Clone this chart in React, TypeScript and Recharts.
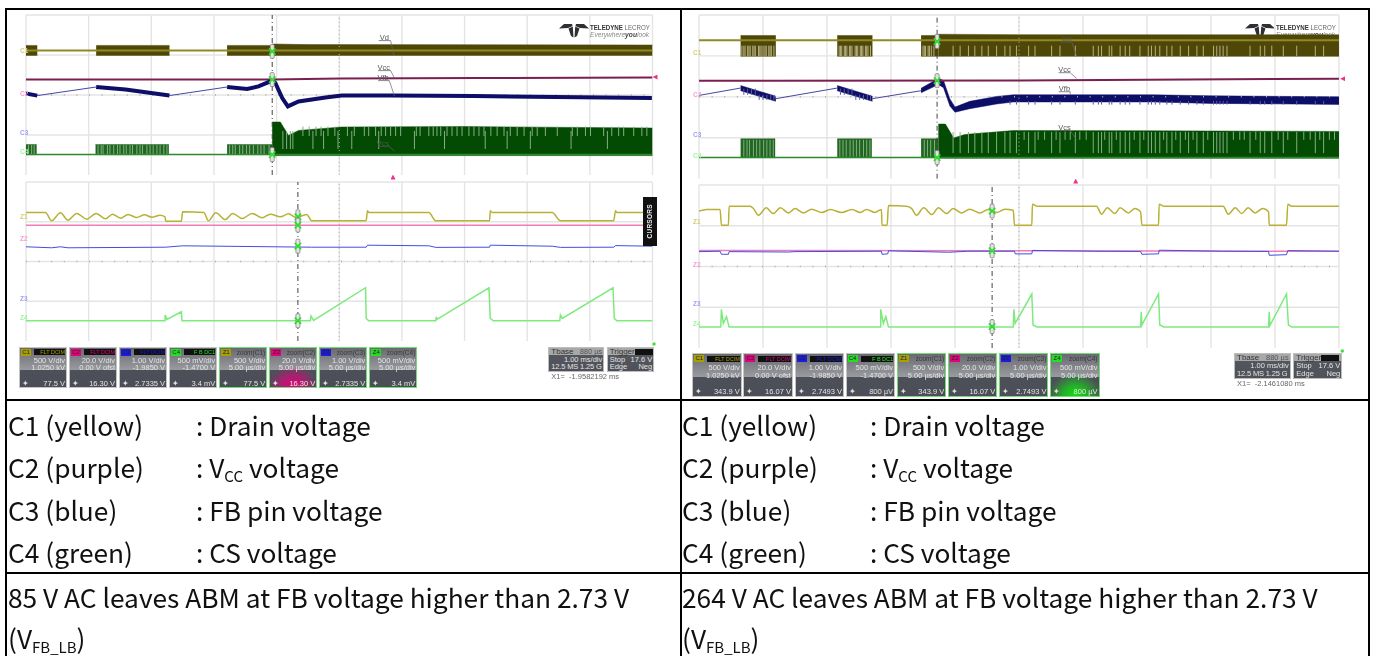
import { ComposedChart, CartesianGrid, XAxis, YAxis, Line, Area, ReferenceLine, ReferenceDot } from 'recharts'

type Pt = [number, number]
type Band = [number, number, number]
type Notches = { low: number; high: number; xs: number[] }

const GRID_X = [0, 1, 2, 3, 4, 5, 6, 7, 8, 9, 10]
const GRID_Y = [0, 1, 2, 3, 4, 5, 6, 7, 8]

const ltC1Base: Pt[] = [[0, 6.23], [10, 6.23]]
const ltC1Bursts: Band[][] = [
  [[0, 5.98, 6.48], [0.18, 5.98, 6.48]],
  [[1.12, 5.98, 6.48], [2.29, 5.98, 6.48]],
  [[3.21, 5.98, 6.48], [3.93, 5.98, 6.48]],
  [[3.93, 5.98, 6.55], [4.5, 5.98, 6.52], [10, 5.98, 6.5]],
]
const ltC2: Pt[] = [[0, 4.78], [3.93, 4.78], [5.02, 4.82], [7.2, 4.85], [10, 4.88]]
const ltC3Thin: Pt[][] = [
  [[0.18, 3.97], [1.12, 4.4]],
  [[2.29, 3.97], [3.21, 4.4]],
]
const ltC3Thick: Pt[][] = [
  [[0, 4.08], [0.18, 3.97]],
  [[1.12, 4.4], [1.59, 4.27], [2.29, 3.97]],
  [[3.21, 4.4], [3.53, 4.3], [3.71, 4.43], [3.93, 4.72], [3.98, 4.6], [4.09, 3.85], [4.18, 3.43], [4.35, 3.68], [4.78, 3.88], [5.04, 3.97], [5.82, 3.98], [7.15, 3.95], [9.99, 3.85]],
]
const ltC4Base: Pt[] = [[0, 1.02], [10, 1.02]]
const ltC4Bursts: Band[][] = [
  [[0, 1.02, 1.52], [0.17, 1.02, 1.52]],
  [[1.11, 1.02, 1.52], [2.28, 1.02, 1.52]],
  [[3.21, 1.02, 1.52], [3.93, 1.02, 1.52]],
]
const ltC4Post: Band[] = [[3.93, 0.97, 2.65], [4.06, 0.97, 2.65], [4.19, 0.97, 1.98], [4.35, 0.97, 2.23], [5.04, 0.97, 2.4], [7, 0.97, 2.42], [10, 0.97, 2.35]]
const ltC4BurstHatch: Notches = {
  low: 1.05, high: 1.5,
  xs: [0.04, 0.09, 0.13, 1.15, 1.2, 1.23, 1.3, 1.34, 1.4, 1.46, 1.5, 1.56, 1.6, 1.66, 1.7, 1.77, 1.82, 1.86, 1.93, 1.98, 2.03, 2.09, 2.14, 2.2, 2.25, 3.25, 3.3, 3.34, 3.41, 3.46, 3.52, 3.57, 3.63, 3.7, 3.75, 3.8, 3.88],
}
const ltC4PostShort: Notches = {
  low: 1.95, high: 2.42,
  xs: [4.42, 4.52, 4.63, 4.71, 4.82, 4.93, 5.13, 5.24, 5.4, 5.47, 5.58, 5.67, 5.74, 5.82, 5.9, 5.98, 6.23, 6.29, 6.43, 6.5, 6.56, 6.62, 6.72, 6.8, 6.88, 6.96, 7.07, 7.15, 7.23, 7.31, 7.42, 7.52, 7.63, 7.73, 7.84, 7.95, 8.08, 8.16, 8.29, 8.48, 8.72, 8.8, 8.93, 9.01, 9.22, 9.35, 9.46, 9.54, 9.7, 9.83, 9.91],
}
const ltC4PostLong: Notches = {
  low: 1.3, high: 2.2,
  xs: [4.1, 4.16, 4.22, 4.26, 4.58, 4.75, 4.98, 5.2, 5.63, 6.2, 6.68, 7.33, 7.68, 8.05, 8.7, 9.28],
}

const lbC1: Pt[] = [[0, 6.47], [0.31, 6.47], [0.41, 6.05], [0.55, 6.45], [0.67, 6.08], [0.81, 6.42], [0.97, 6.13], [1.12, 6.42], [1.27, 6.15], [1.38, 6.38], [1.51, 6.18], [1.63, 6.37], [1.77, 6.21], [1.89, 6.35], [2.01, 6.23], [2.14, 6.33], [2.22, 6.25], [2.23, 6.02], [2.48, 6.02], [2.5, 6.5], [2.84, 6.47], [2.91, 6.05], [3.03, 6.45], [3.18, 6.11], [3.3, 6.42], [3.45, 6.16], [3.61, 6.42], [3.77, 6.2], [3.9, 6.38], [4.06, 6.25], [4.19, 6.4], [4.31, 6.21], [4.48, 6.37], [4.56, 6.05], [5.43, 6.05], [5.45, 6.55], [5.47, 6.47], [6.43, 6.47], [6.54, 6.05], [7.4, 6.05], [7.41, 6.55], [7.44, 6.47], [8.4, 6.47], [8.53, 6.05], [9.38, 6.05], [9.41, 6.55], [9.43, 6.47], [10, 6.47]]
const lbC2: Pt[] = [[0, 5.83], [10, 5.83]]
const lbC3: Pt[] = [[0, 4.74], [0.41, 4.69], [0.55, 4.74], [0.67, 4.69], [2.23, 4.72], [2.5, 4.79], [4.56, 4.72], [5.43, 4.72], [5.45, 4.82], [6.43, 4.79], [6.54, 4.71], [7.4, 4.72], [7.41, 4.82], [8.4, 4.77], [8.53, 4.71], [9.38, 4.72], [9.41, 4.8], [10, 4.77]]
const lbC4: Pt[] = [[0, 1.02], [2.22, 1.02], [2.22, 1.31], [2.25, 1.09], [2.48, 1.47], [2.49, 1.02], [4.54, 1.02], [4.55, 1.26], [4.59, 1.04], [5.42, 2.68], [5.43, 1.14], [5.47, 1.02], [6.54, 1.02], [6.55, 1.22], [6.56, 1.09], [7.39, 2.68], [7.41, 1.14], [7.46, 1.02], [8.52, 1.02], [8.53, 1.31], [8.56, 1.14], [9.37, 2.68], [9.39, 1.14], [9.43, 1.02], [10, 1.02]]

const rtC1Base: Pt[] = [[0, 6.76], [10, 6.76]]
const rtC1Bursts: Band[][] = [
  [[0.65, 5.98, 7], [1.2, 5.98, 7]],
  [[2.16, 5.98, 7], [2.71, 5.98, 7]],
  [[3.47, 5.98, 7], [3.74, 5.98, 7]],
  [[3.74, 5.98, 7.06], [5, 5.98, 7.04], [10, 5.98, 7.03]],
]
const rtPulseGaps = [3.97, 4.08, 4.21, 4.31, 4.42, 4.52, 4.65, 4.78, 4.86, 4.96, 5.15, 5.25, 5.51, 5.64, 5.88, 6.16, 6.24, 6.29, 6.41, 6.45, 6.58, 6.66, 6.73, 6.89, 7.02, 7.07, 7.13, 7.2, 7.31, 7.39, 7.52, 7.65, 7.78, 7.88, 8.04, 8.09, 8.14, 8.19, 8.25, 8.61, 8.77, 8.84, 8.95, 9.13, 9.34, 9.63, 9.76]
const rtC1Hatch: Notches = {
  low: 5.98, high: 6.5,
  xs: [0.67, 0.7, 0.72, 0.76, 0.78, 0.8, 0.84, 0.86, 0.88, 0.93, 0.95, 0.97, 1.0, 1.03, 1.05, 1.09, 1.11, 1.13, 1.17, 2.19, 2.21, 2.23, 2.27, 2.29, 2.31, 2.35, 2.37, 2.39, 2.44, 2.46, 2.48, 2.52, 2.54, 2.56, 2.6, 2.62, 2.64, 2.68, 3.5, 3.52, 3.54, 3.58, 3.6, 3.63, 3.67, ...rtPulseGaps],
}
const rtC2: Pt[] = [[0, 4.79], [5, 4.8], [10, 4.89]]
const rtC3Thin: Pt[][] = [
  [[0, 4.07], [0.65, 4.43]],
  [[1.2, 3.91], [2.16, 4.43]],
  [[2.71, 3.91], [3.47, 4.3]],
]
const rtC3Bands: Band[][] = [
  [[0.65, 4.3, 4.55], [1.2, 3.78, 4.03]],
  [[2.16, 4.3, 4.55], [2.71, 3.78, 4.03]],
  [[3.47, 4.2, 4.42], [3.74, 4.6, 4.9], [3.82, 4.45, 4.8], [3.92, 3.55, 3.9], [4.0, 3.25, 3.5], [4.23, 3.42, 3.78], [4.65, 3.65, 4.02], [4.91, 3.75, 4.1], [7.1, 3.75, 4.1], [8, 3.68, 4.05], [10, 3.63, 4.0]],
]
const rtC3EdgeGaps: Notches = { low: 3.62, high: 3.8, xs: rtPulseGaps.slice(8) }
const rtC3BurstGaps: Notches[] = [
  { low: 4.1, high: 4.4, xs: [0.7, 0.76, 0.82, 0.88] },
  { low: 3.85, high: 4.1, xs: [0.94, 1.0, 1.06, 1.12, 1.17] },
  { low: 4.1, high: 4.4, xs: [2.21, 2.27, 2.33, 2.39] },
  { low: 3.85, high: 4.1, xs: [2.45, 2.51, 2.57, 2.63, 2.68] },
]
const rtC4Base: Pt[] = [[0, 1.03], [10, 1.03]]
const rtC4Bursts: Band[][] = [
  [[0.65, 1.03, 1.95], [1.19, 1.03, 1.95]],
  [[2.16, 1.03, 1.95], [2.7, 1.03, 1.95]],
  [[3.47, 1.03, 1.95], [3.74, 1.03, 1.95]],
]
const rtC4Post: Band[] = [[3.74, 1, 2.67], [3.85, 1, 2.67], [3.98, 1, 1.99], [4.14, 1, 2.15], [4.23, 1, 2.18], [4.91, 1, 2.35], [7, 1, 2.34], [10, 1, 2.31]]
const rtC4BurstHatch: Notches = {
  low: 1.08, high: 1.9,
  xs: [0.7, 0.75, 0.79, 0.85, 0.9, 0.95, 1.01, 1.06, 1.11, 1.16, 2.2, 2.25, 2.3, 2.36, 2.41, 2.46, 2.51, 2.57, 2.62, 2.67, 3.52, 3.57, 3.62, 3.68],
}
const rtC4PostLong: Notches = { low: 1.25, high: 2.28, xs: rtPulseGaps }
const rtC4PostShort: Notches = {
  low: 1.9, high: 2.3,
  xs: [5.08, 5.3, 5.4, 5.58, 5.72, 5.8, 5.95, 6.05, 6.34, 6.52, 6.8, 6.95, 7.26, 7.45, 7.6, 7.72, 7.95, 8.35, 8.45, 8.52, 8.7, 9.05, 9.2, 9.45, 9.55, 9.7, 9.85, 9.93],
}

const rbC1: Pt[] = [[0, 6.72], [0.12, 6.8], [0.33, 6.8], [0.35, 6.03], [0.46, 6.03], [0.47, 6.96], [0.8, 6.96], [0.85, 6.85], [0.93, 6.52], [1.05, 6.88], [1.16, 6.6], [1.27, 6.88], [1.4, 6.63], [1.5, 6.85], [1.63, 6.63], [1.76, 6.81], [1.92, 6.65], [2.05, 6.8], [2.23, 6.65], [2.39, 6.8], [2.52, 6.65], [2.62, 6.8], [2.75, 6.65], [2.85, 6.8], [2.86, 6.03], [2.94, 6.03], [2.96, 6.99], [3.24, 6.96], [3.32, 6.85], [3.4, 6.52], [3.51, 6.88], [3.64, 6.55], [3.74, 6.88], [3.87, 6.6], [3.97, 6.85], [4.1, 6.63], [4.23, 6.81], [4.39, 6.63], [4.52, 6.8], [4.65, 6.65], [4.78, 6.81], [4.91, 6.76], [4.93, 6.03], [5.2, 6.03], [5.21, 7.06], [5.28, 6.96], [6.21, 6.96], [6.29, 6.57], [6.38, 6.88], [6.5, 6.6], [6.58, 6.88], [6.71, 6.63], [6.81, 6.85], [6.9, 6.68], [6.92, 6.03], [7.18, 6.03], [7.19, 7.06], [7.26, 6.96], [8.19, 6.96], [8.27, 6.57], [8.38, 6.88], [8.48, 6.6], [8.58, 6.88], [8.69, 6.63], [8.81, 6.85], [8.9, 6.68], [8.91, 6.03], [9.18, 6.03], [9.2, 7.06], [9.26, 6.96], [10, 6.96]]
const rbC2: Pt[] = [[0, 4.79], [10, 4.75]]
const rbC3: Pt[] = [[0, 4.73], [0.33, 4.75], [0.35, 4.6], [0.46, 4.6], [0.47, 4.73], [1.4, 4.71], [1.5, 4.73], [2.85, 4.75], [2.86, 4.6], [2.95, 4.62], [2.96, 4.77], [3.9, 4.7], [4.2, 4.75], [4.93, 4.75], [4.94, 4.62], [5.2, 4.62], [5.21, 4.79], [6.2, 4.75], [6.9, 4.74], [6.92, 4.6], [7.18, 4.62], [7.19, 4.8], [8.2, 4.75], [8.9, 4.74], [8.91, 4.55], [9.18, 4.58], [9.2, 4.78], [10, 4.75]]
const rbC4: Pt[] = [[0, 1.03], [0.34, 1.03], [0.35, 1.9], [0.38, 1.21], [0.43, 1.54], [0.47, 1.03], [2.84, 1.03], [2.84, 1.9], [2.88, 1.21], [2.92, 1.54], [2.96, 1.03], [4.91, 1.03], [4.92, 1.9], [4.94, 1.21], [5.2, 2.65], [5.22, 1.13], [5.28, 1.03], [6.9, 1.03], [6.91, 1.78], [6.92, 1.13], [7.18, 2.65], [7.2, 1.13], [7.26, 1.03], [8.9, 1.03], [8.91, 1.78], [8.92, 1.1], [9.18, 2.65], [9.21, 1.13], [9.26, 1.03], [10, 1.03]]

const ltMarks: Pt[] = [[3.93, 6.18], [3.93, 4.77], [3.93, 1.02]]
const lbMarks: Pt[] = [[4.34, 6.25], [4.34, 5.83], [4.34, 4.77], [4.34, 1.02]]
const rtMarks: Pt[] = [[3.72, 6.71], [3.72, 4.79], [3.72, 1.03]]
const rbMarks: Pt[] = [[4.58, 6.72], [4.58, 4.77], [4.58, 1.05]]

const ltNotes = [
  { text: 'Vd', x: 5.72, y: 6.88, under: 6.72, from: 5.63, to: 5.82, endX: 5.87, endY: 6 },
  { text: 'Vcc', x: 5.71, y: 5.38, under: 5.22, from: 5.62, to: 5.82, endX: 5.88, endY: 4.85 },
  { text: 'Vfb', x: 5.7, y: 4.88, under: 4.72, from: 5.62, to: 5.8, endX: 5.88, endY: 3.95 },
  { text: 'Vcs', x: 5.7, y: 1.58, under: 1.42, from: 5.62, to: 5.8, endX: 5.88, endY: 1.2 },
]
const rtNotes = [
  { text: 'Vd', x: 5.74, y: 6.81, under: 6.65, from: 5.65, to: 5.83, endX: 5.9, endY: 6 },
  { text: 'Vcc', x: 5.71, y: 5.34, under: 5.18, from: 5.62, to: 5.8, endX: 5.9, endY: 4.9 },
  { text: 'Vfb', x: 5.71, y: 4.41, under: 4.25, from: 5.62, to: 5.8, endX: 5.8, endY: 4.1 },
  { text: 'Vcs', x: 5.71, y: 2.51, under: 2.35, from: 5.62, to: 5.8, endX: 5.9, endY: 1.9 },
]

const leftChannels = [
  { tag: 'C1', color: '#a8a000', head: 'FLT DCIM', a: '500 V/div', b: '1.0250 kV', c: '77.5 V' },
  { tag: 'C2', color: '#e6007e', head: 'FLT DCIM', a: '20.0 V/div', b: '0.00 V ofst', c: '16.30 V' },
  { tag: 'C3', color: '#1a1ae0', head: 'FLT DCIM', a: '1.00 V/div', b: '-1.9850 V', c: '2.7335 V' },
  { tag: 'C4', color: '#22e022', head: 'F B DC1', a: '500 mV/div', b: '-1.4700 V', c: '3.4 mV' },
  { tag: 'Z1', color: '#a8a000', head: 'zoom(C1)', a: '500 V/div', b: '5.00 µs/div', c: '77.5 V', zoom: true },
  { tag: 'Z2', color: '#e6007e', head: 'zoom(C2)', a: '20.0 V/div', b: '5.00 µs/div', c: '16.30 V', zoom: true, glow: '#e6007e' },
  { tag: 'Z3', color: '#1a1ae0', head: 'zoom(C3)', a: '1.00 V/div', b: '5.00 µs/div', c: '2.7335 V', zoom: true },
  { tag: 'Z4', color: '#22e022', head: 'zoom(C4)', a: '500 mV/div', b: '5.00 µs/div', c: '3.4 mV', zoom: true },
]
const rightChannels = [
  { tag: 'C1', color: '#a8a000', head: 'FLT DCIM', a: '500 V/div', b: '1.0250 kV', c: '343.9 V' },
  { tag: 'C2', color: '#e6007e', head: 'FLT DCIM', a: '20.0 V/div', b: '0.00 V ofst', c: '16.07 V' },
  { tag: 'C3', color: '#1a1ae0', head: 'FLT DCIM', a: '1.00 V/div', b: '-1.9850 V', c: '2.7493 V' },
  { tag: 'C4', color: '#22e022', head: 'F B DC1', a: '500 mV/div', b: '-1.4700 V', c: '800 µV' },
  { tag: 'Z1', color: '#a8a000', head: 'zoom(C1)', a: '500 V/div', b: '5.00 µs/div', c: '343.9 V', zoom: true },
  { tag: 'Z2', color: '#e6007e', head: 'zoom(C2)', a: '20.0 V/div', b: '5.00 µs/div', c: '16.07 V', zoom: true },
  { tag: 'Z3', color: '#1a1ae0', head: 'zoom(C3)', a: '1.00 V/div', b: '5.00 µs/div', c: '2.7493 V', zoom: true },
  { tag: 'Z4', color: '#22e022', head: 'zoom(C4)', a: '500 mV/div', b: '5.00 µs/div', c: '800 µV', zoom: true, glow: '#10e010' },
]

const legendRows = ['C1 (yellow)', 'C2 (purple)', 'C3 (blue)', 'C4 (green)']

const PAD = 5
const SCOPE_FONT = '"Liberation Sans", Arial, sans-serif'

const YELLOW_DARK = '#4e4707'
const YELLOW_THIN = '#8f8a24'
const MAROON = '#7a1f50'
const NAVY = '#0c0e68'
const NAVY_THIN = '#4646a2'
const PALE_NAVY = '#5c5ca0'
const GREEN_DARK = '#034a03'
const GREEN_MID = '#1f661f'
const GREEN_THIN = '#2a8a2a'
const PALE_GREEN = '#86ad86'
const PALE_YELLOW = '#b5b084'
const Z_YELLOW = '#b9b136'
const Z_PINK = '#f27ab8'
const Z_BLUE = '#3f4fe0'
const Z_GREEN = '#7eea7e'

const toRows = (pts: Pt[]) => pts.map(([x, y]) => ({ x, y }))
const toBandRows = (pts: Band[]) => pts.map(([x, low, high]) => ({ x, band: [low, high] }))
const toNotchRows = (n: Notches) => n.xs.flatMap(x => [{ x, y: n.low }, { x, y: n.high }, { x, y: null }])

const traceLine = (pts: Pt[], stroke: string, strokeWidth: number, key: string, type: any = 'linear') => (
  <Line key={key} data={toRows(pts)} dataKey="y" type={type} stroke={stroke} strokeWidth={strokeWidth} dot={false} activeDot={false} isAnimationActive={false} />
)
const bandArea = (pts: Band[], fill: string, key: string) => (
  <Area key={key} data={toBandRows(pts)} dataKey="band" type="linear" fill={fill} fillOpacity={1} stroke={fill} strokeWidth={0.5} dot={false} activeDot={false} isAnimationActive={false} />
)
const notchLine = (n: Notches, stroke: string, key: string) => (
  <Line key={key} data={toNotchRows(n)} dataKey="y" type="linear" stroke={stroke} strokeWidth={1} dot={false} activeDot={false} isAnimationActive={false} connectNulls={false} />
)

const CursorMark = (props: any) => {
  const { cx, cy } = props
  return (
    <g>
      <rect x={cx - 2} y={cy - 7} width={4} height={14} rx={1} fill="#e2e2e2" stroke="#777" strokeWidth={0.7} />
      <path d={`M${cx - 3.2} ${cy - 3.2}L${cx + 3.2} ${cy + 3.2}M${cx + 3.2} ${cy - 3.2}L${cx - 3.2} ${cy + 3.2}`} stroke="#22e022" strokeWidth={1.6} />
    </g>
  )
}

const Plot = ({ left, top, width, height, cursor, marks, notes = [], children }: any) => (
  <ComposedChart
    width={width + PAD * 2}
    height={height + PAD * 2}
    margin={{ top: PAD, right: PAD, bottom: PAD, left: PAD }}
    style={{ position: 'absolute', left: left - PAD, top: top - PAD }}
  >
    <XAxis hide type="number" dataKey="x" domain={[0, 10]} ticks={GRID_X} allowDataOverflow />
    <YAxis hide type="number" dataKey="y" domain={[0, 8]} ticks={GRID_Y} allowDataOverflow />
    <CartesianGrid stroke="#e4e4e4" strokeWidth={1.4} verticalValues={GRID_X} horizontalValues={GRID_Y} />
    <ReferenceLine x={5} stroke="#b4b4b4" strokeWidth={1} strokeDasharray="1 3" />
    <ReferenceLine y={4} stroke="#aaa" strokeWidth={1.5} strokeDasharray="1 11.6" />
    {children}
    {notes.flatMap((n: any) => [
      <ReferenceLine key={n.text + 'u'} segment={[{ x: n.from, y: n.under }, { x: n.to, y: n.under }]} stroke="#555" strokeWidth={0.7} />,
      <ReferenceLine key={n.text + 'l'} segment={[{ x: n.to, y: n.under }, { x: n.endX, y: n.endY }]} stroke="#666" strokeWidth={0.7} />,
      <ReferenceDot key={n.text + 't'} x={n.x} y={n.y} r={0} fill="none" stroke="none" label={{ value: n.text, fontSize: 7.5, fill: '#555', fontFamily: SCOPE_FONT }} />,
    ])}
    <ReferenceLine x={cursor} stroke="#444" strokeWidth={1} strokeDasharray="5 3 1 3" />
    {marks.map(([x, y]: Pt, i: number) => (
      <ReferenceDot key={i} x={x} y={y} r={0} shape={CursorMark} />
    ))}
  </ComposedChart>
)

const Abs = ({ l, t, w, h, style, children }: any) => (
  <div style={{ position: 'absolute', left: l, top: t, width: w, height: h, ...style }}>{children}</div>
)

const ChannelBox = ({ ch, l, t, w, h }: any) => {
  const split = Math.round(h * 0.52)
  return (
    <Abs
      l={l} t={t} w={w} h={h}
      style={{
        boxSizing: 'border-box',
        border: ch.zoom ? '1.3px solid #74dc74' : '1px solid #c4c4c4',
        background: ch.glow
          ? `radial-gradient(ellipse 55% 55% at 50% 100%, ${ch.glow} 0%, ${ch.glow}aa 45%, transparent 100%), linear-gradient(#686a70 0, #9a9b9f ${split}px, #4d5059 ${split}px, #4b4e57 100%)`
          : `linear-gradient(#686a70 0, #9a9b9f ${split}px, #4d5059 ${split}px, #4b4e57 100%)`,
        overflow: 'hidden',
        fontFamily: SCOPE_FONT,
        fontSize: 7.5,
        color: '#e4e4e4',
        lineHeight: '8px',
      }}
    >
      <Abs l={1} t={1} w={10} h={7} style={{ background: ch.color, color: '#222', fontSize: 6, lineHeight: '7px', textAlign: 'center' }}>{ch.tag}</Abs>
      {ch.zoom ? (
        <Abs l={15} t={1} w={w - 18} h={7} style={{ color: '#3a3a3a', textAlign: 'right', fontSize: 6.5, lineHeight: '7px', whiteSpace: 'nowrap' }}>{ch.head}</Abs>
      ) : (
        <Abs l={14} t={1.5} w={w - 17} h={6} style={{ background: '#111', color: ch.color, textAlign: 'right', fontSize: 5.5, lineHeight: '6px', whiteSpace: 'nowrap', overflow: 'hidden' }}>{ch.head}</Abs>
      )}
      <Abs l={0} t={h * 0.31 - 4} w={w - 3} style={{ textAlign: 'right', whiteSpace: 'nowrap' }}>{ch.a}</Abs>
      <Abs l={0} t={h * 0.5 - 4} w={w - 3} style={{ textAlign: 'right', whiteSpace: 'nowrap' }}>{ch.b}</Abs>
      <Abs l={2} t={h * 0.89 - 5} style={{ fontSize: 7.5 }}>✦</Abs>
      <Abs l={12} t={h * 0.89 - 5} w={w - 15} style={{ textAlign: 'right', whiteSpace: 'nowrap' }}>{ch.c}</Abs>
    </Abs>
  )
}

const TimeBox = ({ l, t, h, w1, w2, gap, cursor }: any) => {
  const box = {
    boxSizing: 'border-box', border: '1px solid #bdbdbd', overflow: 'hidden', fontFamily: SCOPE_FONT, fontSize: 7.5, lineHeight: '8px', color: '#e4e4e4',
    background: 'linear-gradient(#a8a8a8 0, #a8a8a8 30%, #54565e 30%, #4f5159 100%)',
  }
  return (
    <>
      <Abs l={l} t={t} w={w1} h={h} style={box}>
        <Abs l={2} t={0} style={{ color: '#333', fontSize: 8 }}>Tbase</Abs>
        <Abs l={0} t={0} w={w1 - 3} style={{ textAlign: 'right', color: '#555' }}>880 µs</Abs>
        <Abs l={0} t={8} w={w1 - 3} style={{ textAlign: 'right' }}>1.00 ms/div</Abs>
        <Abs l={2} t={15.5} w={w1 - 4} style={{ whiteSpace: 'nowrap', letterSpacing: -0.15 }}>12.5 MS&nbsp;1.25 G</Abs>
      </Abs>
      <Abs l={l + w1 + gap} t={t} w={w2} h={h} style={box}>
        <Abs l={2} t={0} style={{ color: '#333', fontSize: 8 }}>Trigger</Abs>
        <Abs l={27} t={1} w={18} h={6} style={{ background: '#111' }} />
        <Abs l={2} t={8} style={{}}>Stop</Abs>
        <Abs l={0} t={8} w={w2 - 3} style={{ textAlign: 'right' }}>17.6 V</Abs>
        <Abs l={2} t={15.5} style={{}}>Edge</Abs>
        <Abs l={0} t={15.5} w={w2 - 3} style={{ textAlign: 'right' }}>Neg</Abs>
      </Abs>
      <Abs l={l + 3} t={t + h} style={{ fontFamily: SCOPE_FONT, fontSize: 7.5, lineHeight: '9px', color: '#666', whiteSpace: 'nowrap' }}>
        X1=&nbsp; {cursor} ms
      </Abs>
    </>
  )
}

const Logo = ({ l, t }: any) => (
  <>
    <svg width={30} height={15} viewBox="0 0 30 15" style={{ position: 'absolute', left: l, top: t }}>
      <path d="M0 5.5L5 1L13 1L13.5 3L9 5ZM9.5 5.5L13.8 3.5L14.5 14.5L12 13ZM30 5.5L25 1L17 1L16.5 3L21 5ZM20.5 5.5L16.2 3.5L15.5 14.5L18 13Z" fill="#2f3033" />
    </svg>
    <Abs l={l + 31} t={t} style={{ fontFamily: SCOPE_FONT, fontSize: 8, lineHeight: '9px', color: '#333', whiteSpace: 'nowrap', transform: 'scaleX(0.77)', transformOrigin: 'left' }}>
      <b>TELEDYNE</b> <span style={{ color: '#666' }}>LECROY</span>
    </Abs>
    <Abs l={l + 31} t={t + 8} style={{ fontFamily: SCOPE_FONT, fontSize: 7, lineHeight: '8px', color: '#888', fontStyle: 'italic', whiteSpace: 'nowrap', transform: 'scaleX(0.95)', transformOrigin: 'left' }}>
      Everywhere<b style={{ color: '#444' }}>you</b>look
    </Abs>
  </>
)

const ChannelTags = ({ l, tags }: any) => (
  <>
    {tags.map(([text, t, color]: [string, number, string], i: number) => (
      <Abs key={i} l={l} t={t} style={{ fontFamily: SCOPE_FONT, fontSize: 6.5, lineHeight: '7px', color, fontWeight: 'bold' }}>{text}</Abs>
    ))}
  </>
)

const Marker = ({ l, t, color, shape }: any) => (
  <Abs l={l - 2.5} t={t - 2.5} w={5} h={5} style={{ background: color, clipPath: shape }} />
)
const TRI_UP = 'polygon(50% 0, 100% 100%, 0 100%)'
const TRI_LEFT = 'polygon(0 50%, 100% 0, 100% 100%)'
const DOT = 'circle(35%)'

const Sub = ({ children }: any) => (
  <span style={{ fontSize: 15, position: 'relative', top: 4 }}>{children}</span>
)

const LegendCell = ({ l, caption }: any) => (
  <>
    {legendRows.map((row, i) => (
      <Abs key={row} l={l} t={[407, 449, 492, 534][i]} style={{ whiteSpace: 'nowrap' }}>{row}</Abs>
    ))}
    <Abs l={l + 188} t={407} style={{ whiteSpace: 'nowrap' }}>: Drain voltage</Abs>
    <Abs l={l + 188} t={449} style={{ whiteSpace: 'nowrap' }}>: V<Sub>CC</Sub> voltage</Abs>
    <Abs l={l + 188} t={492} style={{ whiteSpace: 'nowrap' }}>: FB pin voltage</Abs>
    <Abs l={l + 188} t={534} style={{ whiteSpace: 'nowrap' }}>: CS voltage</Abs>
    <Abs l={l} t={579} style={{ whiteSpace: 'nowrap' }}>{caption}</Abs>
    <Abs l={l} t={620} style={{ whiteSpace: 'nowrap' }}>(V<Sub>FB_LB</Sub>)</Abs>
  </>
)

export default function App() {
  return (
    <div style={{ position: 'absolute', left: 0, top: 0, width: 1373, height: 656, background: '#fff', overflow: 'hidden' }}>
      <div style={{ position: 'absolute', inset: 0, filter: 'blur(0.45px)' }}>
        <Plot left={25.5} top={15} width={626.5} height={160} cursor={3.93} marks={ltMarks} notes={ltNotes}>
          {traceLine(ltC1Base, YELLOW_THIN, 2, 'c1')}
          {ltC1Bursts.map((b, i) => bandArea(b, YELLOW_DARK, 'c1b' + i))}
          {traceLine(ltC2, MAROON, 2, 'c2')}
          {ltC3Thin.map((s, i) => traceLine(s, NAVY_THIN, 1, 'c3t' + i))}
          {ltC3Thick.map((s, i) => traceLine(s, NAVY, 4, 'c3k' + i))}
          {traceLine(ltC4Base, GREEN_THIN, 1.5, 'c4')}
          {ltC4Bursts.map((b, i) => bandArea(b, GREEN_MID, 'c4b' + i))}
          {bandArea(ltC4Post, GREEN_DARK, 'c4p')}
          {notchLine(ltC4BurstHatch, PALE_GREEN, 'c4h')}
          {notchLine(ltC4PostShort, PALE_GREEN, 'c4s')}
          {notchLine(ltC4PostLong, PALE_GREEN, 'c4l')}
        </Plot>
        <Plot left={25.5} top={182} width={626.5} height={159} cursor={4.34} marks={lbMarks}>
          {traceLine(lbC4, Z_GREEN, 1.5, 'c4')}
          {traceLine(lbC2, Z_PINK, 1.5, 'c2')}
          {traceLine(lbC3, Z_BLUE, 1, 'c3')}
          {traceLine(lbC1, Z_YELLOW, 1.5, 'c1', 'monotoneX')}
        </Plot>
        <Logo l={559} t={23} />
        <Logo l={1245} t={23} />
        <Plot left={699} top={15} width={640} height={163.7} cursor={3.72} marks={rtMarks} notes={rtNotes}>
          {traceLine(rtC1Base, YELLOW_THIN, 2, 'c1')}
          {rtC1Bursts.map((b, i) => bandArea(b, YELLOW_DARK, 'c1b' + i))}
          {notchLine(rtC1Hatch, PALE_YELLOW, 'c1h')}
          {traceLine(rtC2, MAROON, 2, 'c2')}
          {rtC3Thin.map((s, i) => traceLine(s, NAVY_THIN, 1, 'c3t' + i))}
          {rtC3Bands.map((b, i) => bandArea(b, NAVY, 'c3b' + i))}
          {notchLine(rtC3EdgeGaps, PALE_NAVY, 'c3e')}
          {rtC3BurstGaps.map((n, i) => notchLine(n, PALE_NAVY, 'c3g' + i))}
          {traceLine(rtC4Base, GREEN_THIN, 1.5, 'c4')}
          {rtC4Bursts.map((b, i) => bandArea(b, GREEN_MID, 'c4b' + i))}
          {bandArea(rtC4Post, GREEN_DARK, 'c4p')}
          {notchLine(rtC4BurstHatch, PALE_GREEN, 'c4h')}
          {notchLine(rtC4PostLong, PALE_GREEN, 'c4l')}
          {notchLine(rtC4PostShort, PALE_GREEN, 'c4s')}
        </Plot>
        <Plot left={699} top={185} width={640} height={163} cursor={4.58} marks={rbMarks}>
          {traceLine(rbC4, Z_GREEN, 1.5, 'c4')}
          {traceLine(rbC2, Z_PINK, 1.5, 'c2')}
          {traceLine(rbC3, Z_BLUE, 1, 'c3')}
          {traceLine(rbC1, Z_YELLOW, 1.5, 'c1', 'monotoneX')}
        </Plot>

        <ChannelTags l={20} tags={[['C1', 47, '#d4ce78'], ['C2', 90, '#f4a0d0'], ['C3', 129, '#a0a0f4'], ['C4', 148, '#a0f4a0'], ['Z1', 213, '#d4ce78'], ['Z2', 235, '#f4a0d0'], ['Z3', 295, '#a0a0f4'], ['Z4', 314, '#a0f4a0']]} />
        <ChannelTags l={693} tags={[['C1', 49, '#d4ce78'], ['C2', 91, '#f4a0d0'], ['C3', 131, '#a0a0f4'], ['C4', 152, '#a0f4a0'], ['Z1', 218, '#d4ce78'], ['Z2', 261, '#f4a0d0'], ['Z3', 300, '#a0a0f4'], ['Z4', 320, '#a0f4a0']]} />

        <Marker l={393} t={177} color="#f0308a" shape={TRI_UP} />
        <Marker l={655} t={77} color="#f0308a" shape={TRI_LEFT} />
        <Marker l={654} t={344} color="#40e040" shape={DOT} />
        <Marker l={1075.7} t={181} color="#f0308a" shape={TRI_UP} />
        <Marker l={1342.7} t={78.7} color="#f0308a" shape={TRI_LEFT} />
        <Marker l={1342.3} t={351} color="#40e040" shape={DOT} />

        <Abs l={643.3} t={197.3} w={13.4} h={48.7} style={{ background: '#111', display: 'flex', alignItems: 'center', justifyContent: 'center' }}>
          <span style={{ writingMode: 'vertical-rl', transform: 'rotate(180deg)', color: '#eee', fontFamily: SCOPE_FONT, fontSize: 6.5, fontWeight: 'bold', letterSpacing: 0.3 }}>CURSORS</span>
        </Abs>

        {leftChannels.map((ch, i) => (
          <ChannelBox key={ch.tag} ch={ch} l={19 + i * 50.05} t={346.7} w={48} h={41.5} />
        ))}
        {rightChannels.map((ch, i) => (
          <ChannelBox key={ch.tag} ch={ch} l={692.3 + i * 51.1} t={353.3} w={49.5} h={43.4} />
        ))}
        <TimeBox l={548.3} t={346.7} h={25} w1={56} w2={47.5} gap={2.4} cursor="-1.9582192" />
        <TimeBox l={1234} t={353.3} h={25.7} w1={56.7} w2={49} gap={2.6} cursor="-2.1461080" />
      </div>

      {/* table rules */}
      <Abs l={5} t={8} w={1365} h={2} style={{ background: '#000' }} />
      <Abs l={5} t={399} w={1365} h={2} style={{ background: '#000' }} />
      <Abs l={5} t={572} w={1365} h={2} style={{ background: '#000' }} />
      <Abs l={5} t={8} w={2} h={648} style={{ background: '#000' }} />
      <Abs l={679.5} t={8} w={2} h={648} style={{ background: '#000' }} />
      <Abs l={1368} t={8} w={2} h={648} style={{ background: '#000' }} />

      <div style={{ position: 'absolute', inset: 0, fontFamily: '"Noto Sans CJK SC", "Noto Sans", sans-serif', fontSize: 26.3, lineHeight: '36px', color: '#111' }}>
        <LegendCell l={8} caption="85 V AC leaves ABM at FB voltage higher than 2.73 V" />
        <LegendCell l={682} caption="264 V AC leaves ABM at FB voltage higher than 2.73 V" />
      </div>
    </div>
  )
}
